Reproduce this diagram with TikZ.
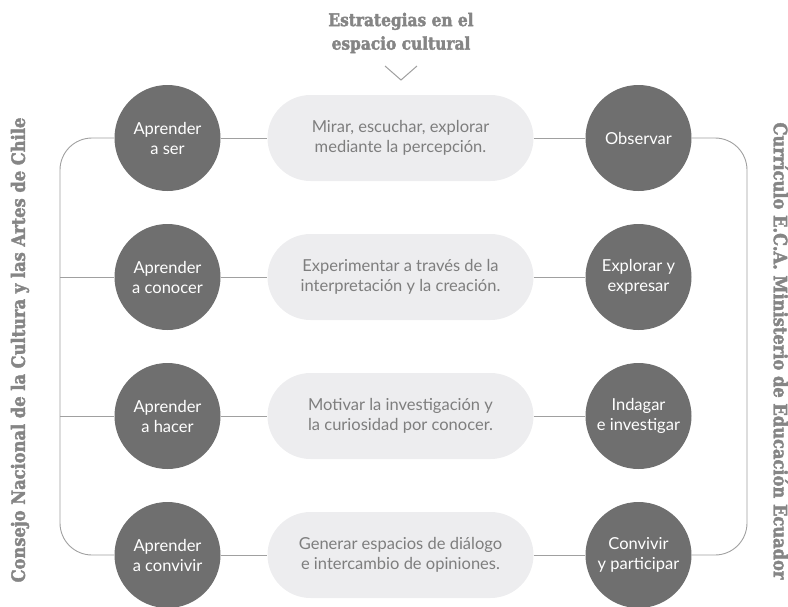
\documentclass[tikz,border=0pt]{standalone}
\usepackage{fontspec}
\setmainfont{Lato}
\newfontfamily\slabfont[FakeStretch=0.88,FakeBold=2.2]{DejaVu Serif Bold}
\usetikzlibrary{shapes.misc}
\definecolor{circfill}{HTML}{6F6F6F}
\definecolor{pillfill}{HTML}{EDEDEF}
\definecolor{pilltext}{HTML}{7E7E7E}
\definecolor{linecol}{HTML}{A0A0A0}
\definecolor{headcol}{HTML}{858585}
\tikzset{
  circ/.style={circle, fill=circfill, minimum size=106pt, inner sep=0pt, text=white, align=center, font=\fontsize{16.5}{20}\selectfont},
  pill/.style={rounded rectangle, fill=pillfill, minimum width=266pt, minimum height=86pt, inner sep=0pt, text=pilltext, align=center, font=\fontsize{16.5}{19.5}\selectfont},
  conn/.style={draw=linecol, line width=0.9pt},
  head/.style={text=headcol, align=center, font=\slabfont\fontsize{17.5}{23.5}\selectfont},
  side/.style={text=headcol, font=\slabfont\fontsize{18.5}{22}\selectfont},
}
\begin{document}
\begin{tikzpicture}[x=1pt,y=-1pt]
\useasboundingbox (0,0) rectangle (788,606);
% title
\node[head] (title) at (401,33) {Estrategias en el\\espacio cultural};
\coordinate (c1) at (385,66);
\coordinate (c2) at (401,80);
\coordinate (c3) at (417,66);
\draw[conn, line width=1pt] (c1) -- (c2) -- (c3);
% rows
\foreach \i/\y/\a/\p/\b in {
 1/138/{Aprender\\a ser}/{Mirar, escuchar, explorar\\mediante la percepción.}/{Observar},
 2/277/{Aprender\\a conocer}/{Experimentar a través de la\\interpretación y la creación.}/{Explorar y\\expresar},
 3/416/{Aprender\\a hacer}/{Motivar la investigación y\\la curiosidad por conocer.}/{Indagar\\e investigar},
 4/555/{Aprender\\a convivir}/{Generar espacios de diálogo\\e intercambio de opiniones.}/{Convivir\\y participar}}{
  \node[circ] (A\i) at (167.5,\y) {\a};
  \node[pill] (P\i) at (400.5,\y) {\p};
  \node[circ] (B\i) at (638.5,\y) {\b};
  \coordinate (L\i) at (60,\y);
  \coordinate (R\i) at (747,\y);
  \draw[conn] (A\i.east) -- (P\i.west);
  \draw[conn] (P\i.east) -- (B\i.west);
}
% brackets
\draw[conn, rounded corners=32pt] (A1.west) -- (L1) -- (L4) -- (A4.west);
\draw[conn] (L2) -- (A2.west);
\draw[conn] (L3) -- (A3.west);
\draw[conn, rounded corners=32pt] (B1.east) -- (R1) -- (R4) -- (B4.east);
% side labels
\node[side, rotate=90] (left) at (20,350) {Consejo Nacional de la Cultura y las Artes de Chile};
\node[side, rotate=-90] (right) at (781,351) {Currículo E.C.A. Ministerio de Educación Ecuador};
\end{tikzpicture}
\end{document}
